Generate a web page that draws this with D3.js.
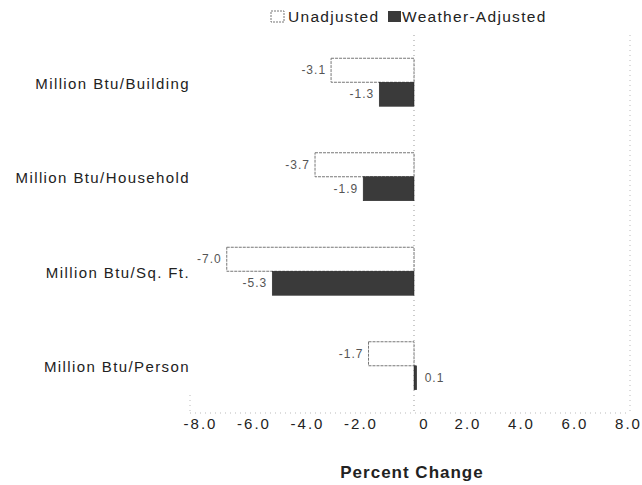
<!DOCTYPE html>
<html><head><meta charset="utf-8">
<script src="https://cdn.jsdelivr.net/npm/d3@7"></script>
<style>body{margin:0;background:#fff;} text{font-family:"Liberation Sans",Arial,sans-serif;}</style>
</head><body>
<svg id="c" width="642" height="485"></svg>
<script>
const categories = ["Million Btu/Building","Million Btu/Household","Million Btu/Sq. Ft.","Million Btu/Person"];
const unadjusted = [-3.1,-3.7,-7.0,-1.7];
const weatherAdjusted = [-1.3,-1.9,-5.3,0.1];
const seriesNames = ["Unadjusted","Weather-Adjusted"];
const tickValues = [-8,-6,-4,-2,0,2,4,6,8];
const tickLabels = ["-8.0","-6.0","-4.0","-2.0","0","2.0","4.0","6.0","8.0"];

const svg = d3.select("#c");
const x = d3.scaleLinear().domain([-8,8]).range([200,628]);
const y = d3.scaleBand().domain(categories).range([35,413]);
const sub = d3.scaleBand().domain(seriesNames).range([0,48]);
const colors = {"Unadjusted":"#ffffff","Weather-Adjusted":"#3a3a3a"};

// frame (dotted)
const fr = svg.append("g").attr("stroke","#bbb").attr("stroke-dasharray","1,4").attr("fill","none");
fr.append("line").attr("x1",190).attr("x2",630).attr("y1",413).attr("y2",413);
fr.append("line").attr("x1",190).attr("x2",190).attr("y1",395).attr("y2",413);
fr.append("line").attr("x1",630).attr("x2",630).attr("y1",35).attr("y2",413);
fr.append("line").attr("x1",x(0)).attr("x2",x(0)).attr("y1",35).attr("y2",413).attr("stroke","#999");

const data = [];
categories.forEach((c,i)=>{
  data.push({c, s:"Unadjusted", v:unadjusted[i]});
  data.push({c, s:"Weather-Adjusted", v:weatherAdjusted[i]});
});

svg.append("g").selectAll("rect").data(data).join("rect")
  .attr("x",d=>x(Math.min(0,d.v)))
  .attr("width",d=>Math.max(2.5,Math.abs(x(d.v)-x(0))))
  .attr("y",d=>y(d.c)+y.bandwidth()/2-24+sub(d.s))
  .attr("height",24)
  .attr("fill",d=>colors[d.s])
  .attr("stroke",d=>d.s==="Unadjusted"?"#777":"#222")
  .attr("stroke-width",d=>d.s==="Unadjusted"?1:0.5)
  .attr("stroke-dasharray",d=>d.s==="Unadjusted"?"3,1":null);

svg.append("g").selectAll("text").data(data).join("text")
  .attr("x",d=>d.v<0? x(d.v)-5 : x(d.v)+8)
  .attr("y",d=>y(d.c)+y.bandwidth()/2-24+sub(d.s)+12)
  .attr("dy","0.35em")
  .attr("text-anchor",d=>d.v<0?"end":"start")
  .attr("font-size",12).attr("letter-spacing",1).attr("fill","#555")
  .text(d=>d.v.toFixed(1));

// category labels
svg.append("g").selectAll("text").data(categories).join("text")
  .attr("x",190).attr("y",d=>y(d)+y.bandwidth()/2+1).attr("dy","0.35em")
  .attr("text-anchor","end").attr("font-size",15).attr("letter-spacing",1.4).attr("fill","#222").text(d=>d);

// x axis
const ax = d3.axisBottom(x).tickValues(tickValues).tickSize(0).tickFormat((d,i)=>tickLabels[i]);
const g = svg.append("g").attr("transform","translate(0,413)").call(ax);
g.select(".domain").remove();
g.selectAll("text").attr("font-size",15).attr("letter-spacing",2).attr("fill","#222").attr("dy","0.71em").attr("y",5)
  .style("font-family","'Liberation Sans',Arial,sans-serif")
  .attr("dx",(d)=>d===0?10:0);

svg.append("text").attr("x",412).attr("y",478).attr("text-anchor","middle")
  .attr("font-size",17).attr("letter-spacing",1).attr("font-weight","bold").attr("fill","#222").text("Percent Change");

// legend
const lg = svg.append("g");
lg.append("rect").attr("x",271).attr("y",11).attr("width",13).attr("height",11).attr("fill","#fff").attr("stroke","#777").attr("stroke-dasharray","2,1");
lg.append("text").attr("x",288).attr("y",17).attr("dy","0.35em").attr("font-size",15.5).attr("letter-spacing",1.3).attr("fill","#222").text(seriesNames[0]);
lg.append("rect").attr("x",388).attr("y",11).attr("width",13).attr("height",11).attr("fill","#3a3a3a");
lg.append("text").attr("x",402).attr("y",17).attr("dy","0.35em").attr("font-size",15.5).attr("letter-spacing",1.3).attr("fill","#222").text(seriesNames[1]);
</script>
</body></html>
